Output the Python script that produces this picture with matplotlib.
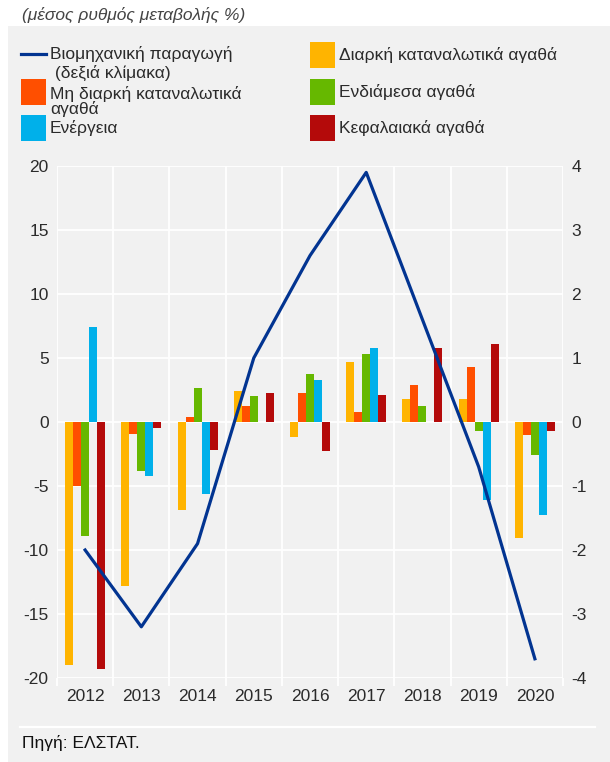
import numpy as np
import matplotlib
matplotlib.use("Agg")
import matplotlib.pyplot as plt
from matplotlib.patches import Rectangle
from matplotlib.lines import Line2D

# ==== Data ====
years = ["2012", "2013", "2014", "2015", "2016", "2017", "2018", "2019", "2020"]

durable = [-19.0, -12.8, -6.9, 2.4, -1.15, 4.7, 1.8, 1.8, -9.1]
non_durable = [-5.0, -0.9, 0.4, 1.25, 2.3, 0.8, 2.9, 4.3, -1.0]
intermediate = [-8.9, -3.8, 2.65, 2.0, 3.75, 5.3, 1.25, -0.7, -2.55]
energy = [7.4, -4.2, -5.6, 0.0, 3.3, 5.8, 0.0, -6.1, -7.3]
capital = [-19.3, -0.5, -2.2, 2.25, -2.3, 2.1, 5.8, 6.1, -0.7]

industrial = [-2.0, -3.2, -1.9, 1.0, 2.6, 3.9, 1.6, -0.7, -3.7]

bar_series = [durable, non_durable, intermediate, energy, capital]
bar_labels = ["Διαρκή καταναλωτικά αγαθά", "Μη διαρκή καταναλωτικά\nαγαθά",
              "Ενδιάμεσα αγαθά", "Ενέργεια", "Κεφαλαιακά αγαθά"]
bar_colors = ["#FFB400", "#FF4F00", "#66B800", "#00B0EA", "#B40A0A"]
line_label = "Βιομηχανική παραγωγή\n (δεξιά κλίμακα)"
line_color = "#023491"

# ==== Style ====
plt.rcParams["font.family"] = ["Liberation Sans", "DejaVu Sans"]
plt.rcParams["axes.unicode_minus"] = False
TEXT = "#2b2b2b"
BG = "#f1f1f1"
FS = 12.5
W, H = 610, 762


def fx(px):
    return px / W


def fy(py):
    return 1 - py / H


fig = plt.figure(figsize=(W / 100, H / 100), dpi=100)
fig.patch.set_facecolor("white")

# grey panel
fig.add_artist(Rectangle((fx(8), 0), 1 - fx(8), fy(26), transform=fig.transFigure,
                         facecolor=BG, edgecolor="none", zorder=0))
fig.text(fx(22), fy(15), "(μέσος ρυθμός μεταβολής %)", fontsize=FS, style="italic",
         color="#444444", va="center", ha="left")

# ==== Main axes ====
ax = fig.add_axes([fx(57), fy(678), fx(563) - fx(57), fy(166) - fy(678)])
ax.set_facecolor(BG)
x = np.arange(len(years))
w = 0.142
for i, (vals, col) in enumerate(zip(bar_series, bar_colors)):
    ax.bar(x + (i - 2) * w, vals, w, color=col, zorder=3)

ax.set_xlim(-0.5, len(years) - 0.5)
ax.set_ylim(-20, 20)
ax.set_yticks(np.arange(-20, 21, 5))
ax.set_xticks(x)
ax.set_xticklabels(years)
ax.set_xticks(np.arange(-0.5, len(years), 1), minor=True)
for s in ax.spines.values():
    s.set_visible(False)
ax.grid(axis="y", which="major", color="white", lw=1.3, zorder=1)
ax.grid(axis="x", which="minor", color="white", lw=1.3, zorder=1)
ax.tick_params(axis="x", which="major", length=0, pad=8, labelsize=FS, labelcolor=TEXT)
ax.tick_params(axis="x", which="minor", length=6, color="white", width=1.3)
ax.tick_params(axis="y", length=0, pad=6, labelsize=FS, labelcolor=TEXT)

# ==== Right axis: industrial production ====
ax2 = ax.twinx()
ax2.set_ylim(-4, 4)
ax2.set_yticks(np.arange(-4, 5, 1))
ax2.plot(x, industrial, color=line_color, lw=2.3, zorder=5)
for s in ax2.spines.values():
    s.set_visible(False)
ax2.tick_params(axis="y", length=0, pad=6, labelsize=FS, labelcolor=TEXT)
ax2.set_zorder(ax.get_zorder() + 1)
ax2.patch.set_visible(False)

# ==== Legend (drawn by hand to follow the original layout) ====
fig.add_artist(Line2D([fx(21), fx(46)], [fy(54), fy(54)], transform=fig.transFigure,
                      color=line_color, lw=2.3))
for k, part in enumerate(line_label.split("\n")):
    fig.text(fx(50), fy(54 + 19 * k), part, fontsize=FS, color=TEXT,
             va="center", ha="left")

slots = [(310, 42), (21, 79), (310, 79), (21, 115), (310, 115)]
for (px, py), lab, col in zip(slots, bar_labels, bar_colors):
    fig.add_artist(Rectangle((fx(px), fy(py + 26)), fx(25), 26 / H, transform=fig.transFigure,
                             facecolor=col, edgecolor="none"))
    parts = lab.split("\n")
    if len(parts) > 1:
        for k, part in enumerate(parts):
            fig.text(fx(px + 29), fy(py + 15 + 15 * k), part, fontsize=FS, color=TEXT,
                     va="center", ha="left")
    else:
        fig.text(fx(px + 29), fy(py + 13), lab, fontsize=FS, color=TEXT, va="center",
                 ha="left")

# ==== Footer ====
fig.add_artist(Line2D([fx(20), fx(595)], [fy(727), fy(727)], transform=fig.transFigure,
                      color="white", lw=1.6))
fig.text(fx(22), fy(743), "Πηγή: ΕΛΣΤΑΤ.", fontsize=FS, color="#111111",
         va="center", ha="left")

fig.savefig("out.png", dpi=100)
